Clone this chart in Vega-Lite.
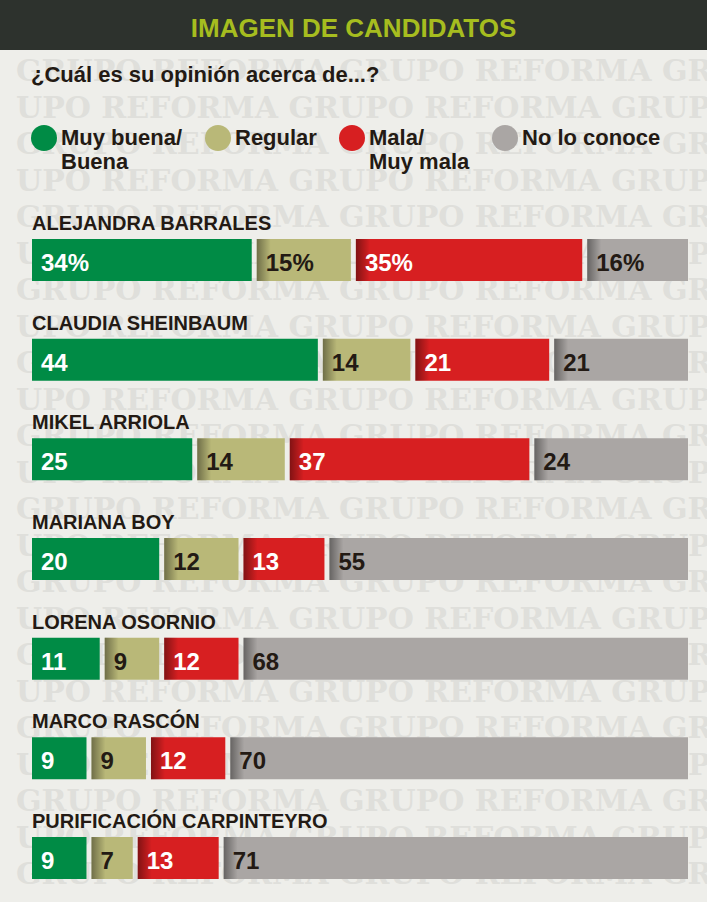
{
  "$schema": "https://vega.github.io/schema/vega-lite/v6.json",
  "width": 707,
  "height": 902,
  "autosize": {"type": "fit", "contains": "padding"},
  "padding": {"left": 0, "right": 0, "top": 16, "bottom": 0},
  "background": "#2d322d",
  "title": {
    "text": "IMAGEN DE CANDIDATOS",
    "anchor": "middle",
    "color": "#a6bd1f",
    "font": "Liberation Sans",
    "fontSize": 26,
    "fontWeight": "bold",
    "offset": 8
  },
  "config": {
    "view": {"fill": "#eeeeea", "stroke": null},
    "text": {"font": "Liberation Sans"}
  },
  "datasets": {
    "survey": [
      {"candidate": "ALEJANDRA BARRALES", "opinion": "Muy buena/|Buena", "pct": 34, "label": "34%"},
      {"candidate": "ALEJANDRA BARRALES", "opinion": "Regular", "pct": 15, "label": "15%"},
      {"candidate": "ALEJANDRA BARRALES", "opinion": "Mala/|Muy mala", "pct": 35, "label": "35%"},
      {"candidate": "ALEJANDRA BARRALES", "opinion": "No lo conoce", "pct": 16, "label": "16%"},
      {"candidate": "CLAUDIA SHEINBAUM", "opinion": "Muy buena/|Buena", "pct": 44, "label": "44"},
      {"candidate": "CLAUDIA SHEINBAUM", "opinion": "Regular", "pct": 14, "label": "14"},
      {"candidate": "CLAUDIA SHEINBAUM", "opinion": "Mala/|Muy mala", "pct": 21, "label": "21"},
      {"candidate": "CLAUDIA SHEINBAUM", "opinion": "No lo conoce", "pct": 21, "label": "21"},
      {"candidate": "MIKEL ARRIOLA", "opinion": "Muy buena/|Buena", "pct": 25, "label": "25"},
      {"candidate": "MIKEL ARRIOLA", "opinion": "Regular", "pct": 14, "label": "14"},
      {"candidate": "MIKEL ARRIOLA", "opinion": "Mala/|Muy mala", "pct": 37, "label": "37"},
      {"candidate": "MIKEL ARRIOLA", "opinion": "No lo conoce", "pct": 24, "label": "24"},
      {"candidate": "MARIANA BOY", "opinion": "Muy buena/|Buena", "pct": 20, "label": "20"},
      {"candidate": "MARIANA BOY", "opinion": "Regular", "pct": 12, "label": "12"},
      {"candidate": "MARIANA BOY", "opinion": "Mala/|Muy mala", "pct": 13, "label": "13"},
      {"candidate": "MARIANA BOY", "opinion": "No lo conoce", "pct": 55, "label": "55"},
      {"candidate": "LORENA OSORNIO", "opinion": "Muy buena/|Buena", "pct": 11, "label": "11"},
      {"candidate": "LORENA OSORNIO", "opinion": "Regular", "pct": 9, "label": "9"},
      {"candidate": "LORENA OSORNIO", "opinion": "Mala/|Muy mala", "pct": 12, "label": "12"},
      {"candidate": "LORENA OSORNIO", "opinion": "No lo conoce", "pct": 68, "label": "68"},
      {"candidate": "MARCO RASCÓN", "opinion": "Muy buena/|Buena", "pct": 9, "label": "9"},
      {"candidate": "MARCO RASCÓN", "opinion": "Regular", "pct": 9, "label": "9"},
      {"candidate": "MARCO RASCÓN", "opinion": "Mala/|Muy mala", "pct": 12, "label": "12"},
      {"candidate": "MARCO RASCÓN", "opinion": "No lo conoce", "pct": 70, "label": "70"},
      {"candidate": "PURIFICACIÓN CARPINTEYRO", "opinion": "Muy buena/|Buena", "pct": 9, "label": "9"},
      {"candidate": "PURIFICACIÓN CARPINTEYRO", "opinion": "Regular", "pct": 7, "label": "7"},
      {"candidate": "PURIFICACIÓN CARPINTEYRO", "opinion": "Mala/|Muy mala", "pct": 13, "label": "13"},
      {"candidate": "PURIFICACIÓN CARPINTEYRO", "opinion": "No lo conoce", "pct": 71, "label": "71"}
    ],
    "watermark": [
      {"line": 0, "wm": "GRUPO REFORMA  GRUPO REFORMA  GRUPO"},
      {"line": 1, "wm": "UPO REFORMA  GRUPO REFORMA  GRUPO"},
      {"line": 2, "wm": "GRUPO REFORMA  GRUPO REFORMA  GRUPO"},
      {"line": 3, "wm": "UPO REFORMA  GRUPO REFORMA  GRUPO"},
      {"line": 4, "wm": "GRUPO REFORMA  GRUPO REFORMA  GRUPO"},
      {"line": 5, "wm": "UPO REFORMA  GRUPO REFORMA  GRUPO"},
      {"line": 6, "wm": "GRUPO REFORMA  GRUPO REFORMA  GRUPO"},
      {"line": 7, "wm": "UPO REFORMA  GRUPO REFORMA  GRUPO"},
      {"line": 8, "wm": "GRUPO REFORMA  GRUPO REFORMA  GRUPO"},
      {"line": 9, "wm": "UPO REFORMA  GRUPO REFORMA  GRUPO"},
      {"line": 10, "wm": "GRUPO REFORMA  GRUPO REFORMA  GRUPO"},
      {"line": 11, "wm": "UPO REFORMA  GRUPO REFORMA  GRUPO"},
      {"line": 12, "wm": "GRUPO REFORMA  GRUPO REFORMA  GRUPO"},
      {"line": 13, "wm": "UPO REFORMA  GRUPO REFORMA  GRUPO"},
      {"line": 14, "wm": "GRUPO REFORMA  GRUPO REFORMA  GRUPO"},
      {"line": 15, "wm": "UPO REFORMA  GRUPO REFORMA  GRUPO"},
      {"line": 16, "wm": "GRUPO REFORMA  GRUPO REFORMA  GRUPO"},
      {"line": 17, "wm": "UPO REFORMA  GRUPO REFORMA  GRUPO"},
      {"line": 18, "wm": "GRUPO REFORMA  GRUPO REFORMA  GRUPO"},
      {"line": 19, "wm": "UPO REFORMA  GRUPO REFORMA  GRUPO"},
      {"line": 20, "wm": "GRUPO REFORMA  GRUPO REFORMA  GRUPO"},
      {"line": 21, "wm": "UPO REFORMA  GRUPO REFORMA  GRUPO"},
      {"line": 22, "wm": "GRUPO REFORMA  GRUPO REFORMA  GRUPO"}
    ]
  },
  "resolve": {"scale": {"y": "independent"}},
  "layer": [
    {
      "data": {"name": "watermark"},
      "mark": {"type": "text", "font": "DejaVu Serif", "fontWeight": "bold", "fontSize": 30, "align": "left", "baseline": "middle", "color": "#dfdfdb", "dx": -16, "clip": true},
      "encoding": {
        "x": {"datum": 0, "type": "quantitative", "scale": {"domain": [0, 100], "range": [32, 693]}, "axis": null},
        "y": {"field": "line", "type": "quantitative", "scale": {"domain": [0, 20], "range": [22, 752]}, "axis": null},
        "text": {"field": "wm"}
      }
    },
    {
      "data": {"name": "survey"},
      "transform": [
        {"stack": "pct", "groupby": ["candidate"], "as": ["v0", "v1"]}
      ],
      "layer": [
        {
          "mark": {"type": "bar", "x2Offset": -5},
          "encoding": {
            "x": {"field": "v0", "type": "quantitative", "scale": {"domain": [0, 100], "range": [32, 693]}, "axis": null},
            "x2": {"field": "v1"},
            "y": {"field": "candidate", "type": "nominal", "sort": null, "scale": {"range": [189, 829], "paddingInner": 0.579, "paddingOuter": 0}, "axis": null},
            "color": {
              "field": "opinion",
              "type": "nominal",
              "scale": {
                "domain": ["Muy buena/|Buena", "Regular", "Mala/|Muy mala", "No lo conoce"],
                "range": ["#008b45", "#b9b878", "#d71f21", "#aaa6a4"]
              },
              "legend": {
                "title": "¿Cuál es su opinión acerca de...?",
                "titleFont": "Liberation Sans",
                "titleFontSize": 22,
                "titleFontWeight": "bold",
                "titleColor": "#231a14",
                "titleLimit": 600,
                "titlePadding": 38,
                "orient": "none",
                "legendX": 31,
                "legendY": 15,
                "padding": 0,
                "direction": "horizontal",
                "columns": 4,
                "columnPadding": 22,
                "symbolType": "circle",
                "symbolSize": 676,
                "symbolStrokeWidth": 0,
                "symbolOpacity": 1,
                "labelExpr": "split(indexof(datum.label, '|') >= 0 ? datum.label : datum.label + '|', '|')",
                "labelFont": "Liberation Sans",
                "labelFontSize": 22,
                "labelFontWeight": "bold",
                "labelColor": "#231a14",
                "labelLimit": 300,
                "labelOffset": 4
              }
            }
          }
        },
        {
          "transform": [{"filter": "datum.opinion != 'Muy buena/|Buena'"}],
          "mark": {"type": "bar", "x2Offset": 14, "fill": {"gradient": "linear", "stops": [{"offset": 0, "color": "rgba(0,0,0,0.4)"}, {"offset": 1, "color": "rgba(0,0,0,0)"}]}},
          "encoding": {
            "x": {"field": "v0", "type": "quantitative"},
            "x2": {"field": "v0"},
            "y": {"field": "candidate", "type": "nominal", "sort": null}
          }
        },
        {
          "mark": {"type": "text", "align": "left", "baseline": "alphabetic", "dx": 9, "dy": 11, "fontSize": 24, "fontWeight": "bold"},
          "encoding": {
            "x": {"field": "v0", "type": "quantitative"},
            "y": {"field": "candidate", "type": "nominal", "sort": null},
            "text": {"field": "label"},
            "color": {"condition": {"test": "datum.opinion == 'Regular' || datum.opinion == 'No lo conoce'", "value": "#231a14"}, "value": "#ffffff"}
          }
        },
        {
          "transform": [{"filter": "datum.opinion == 'Muy buena/|Buena'"}],
          "mark": {"type": "text", "align": "left", "baseline": "alphabetic", "dy": -30, "fontSize": 20, "fontWeight": "bold", "color": "#231a14"},
          "encoding": {
            "x": {"datum": 0, "type": "quantitative"},
            "y": {"field": "candidate", "type": "nominal", "sort": null},
            "text": {"field": "candidate"}
          }
        }
      ]
    }
  ]
}
